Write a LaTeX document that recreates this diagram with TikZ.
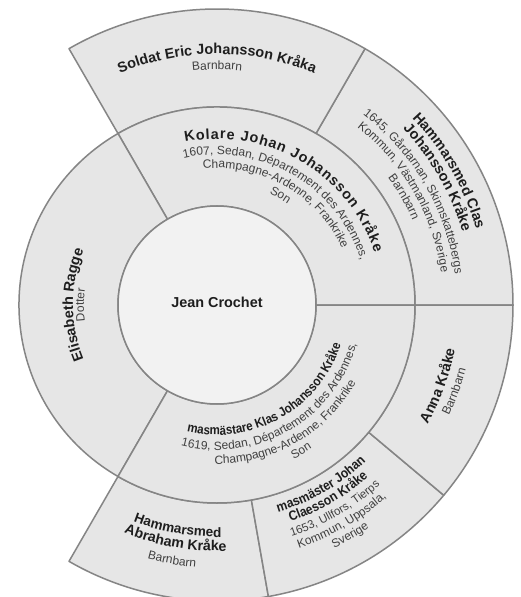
\documentclass[tikz,border=0pt]{standalone}
\usepackage{fontspec}
\setmainfont{Liberation Sans}
\newfontfamily\condsans[FakeStretch=0.89]{Liberation Sans}
\usetikzlibrary{decorations.text}
\definecolor{ringfill}{HTML}{E6E6E6}
\definecolor{centerfill}{HTML}{F2F2F2}
\definecolor{edgecol}{HTML}{858585}
\definecolor{namecol}{HTML}{1E1E1E}
\definecolor{detcol}{HTML}{404040}
\newcommand{\nmf}[1]{\color{namecol}\bfseries\fontsize{#1}{#1}\selectfont}
\newcommand{\cnmf}[1]{\color{namecol}\condsans\bfseries\fontsize{#1}{#1}\selectfont}
\newcommand{\dtf}[1]{\color{detcol}\mdseries\fontsize{#1}{#1}\selectfont}
% clockwise line, tops outward: radius, centre angle, half span, format, text
\newcommand{\upline}[5]{%
  \path[decorate, decoration={text along path, text align=center, text={|#4|#5}}]
    ({#2+#3}:#1pt) arc[start angle={#2+#3}, end angle={#2-#3}, radius=#1pt];}
% counter-clockwise line, tops inward
\newcommand{\downline}[5]{%
  \path[decorate, decoration={text along path, text align=center, text={|#4|#5}}]
    ({#2-#3}:#1pt) arc[start angle={#2-#3}, end angle={#2+#3}, radius=#1pt];}
\newcommand{\upfit}[5]{%
  \path[decorate, decoration={text along path, text align=fit to path, text={|#4|#5}}]
    ({#2+#3}:#1pt) arc[start angle={#2+#3}, end angle={#2-#3}, radius=#1pt];}
% annular sector: inner r, outer r, start angle, end angle
\newcommand{\famsector}[4]{%
  \draw[famcell] (#3:#1pt) arc[start angle=#3, end angle=#4, radius=#1pt]
    -- (#4:#2pt) arc[start angle=#4, end angle=#3, radius=#2pt] -- cycle;}
\begin{document}
\begin{tikzpicture}[
  famcell/.style={fill=ringfill, draw=edgecol, line width=1.5pt, line join=round},
  centercell/.style={fill=centerfill, draw=edgecol, line width=1.5pt}]
\useasboundingbox (-217pt,-292pt) rectangle (303pt,305pt);
\fill[white] (-217pt,-292pt) rectangle (303pt,305pt);
% outer ring
\famsector{198}{296}{0}{60}
\famsector{198}{296}{60}{120}
\famsector{198}{296}{240}{280}
\famsector{198}{296}{280}{320}
\famsector{198}{296}{320}{360}
% middle ring
\famsector{99}{198}{0}{120}
\famsector{99}{198}{120}{240}
\famsector{99}{198}{240}{360}
% centre
\draw[centercell] (0,0) circle[radius=99pt];
\node[anchor=base, font=\bfseries\fontsize{14.4}{14.4}\selectfont, text=namecol] (root) at (0pt,-2pt) {Jean Crochet};
% Kolare Johan Johansson Krake
\upfit{166}{59.75}{41.3}{\nmf{14.4}}{Kolare Johan Johansson Kråke}
\upline{150.5}{60}{60}{\dtf{12}}{1607, Sedan, Département des Ardennes,}
\upline{137}{60}{60}{\dtf{12}}{Champagne-Ardenne, Frankrike}
\upline{123.5}{60}{60}{\dtf{12}}{Son}
% Elisabeth Ragge
\upline{144}{180}{60}{\nmf{14.4}}{Elisabeth Ragge}
\upline{133}{180}{60}{\dtf{12}}{Dotter}
% masmastare Klas Johansson Krake
\downline{130}{299.5}{60}{\cnmf{13}}{masmästare Klas Johansson Kråke}
\downline{145}{300}{60}{\dtf{12}}{1619, Sedan, Département des Ardennes,}
\downline{159}{300}{60}{\dtf{12}}{Champagne-Ardenne, Frankrike}
\downline{172}{300}{60}{\dtf{12}}{Son}
% Soldat Eric
\upline{251}{90}{40}{\nmf{14.4}}{Soldat Eric Johansson Kråka}
\upline{235.5}{90}{40}{\dtf{12}}{Barnbarn}
% Hammarsmed Clas
\upline{270}{30}{40}{\nmf{14.4}}{Hammarsmed Clas}
\upline{256}{30}{40}{\nmf{14.4}}{Johansson Kråke}
\upline{240}{30}{40}{\dtf{12}}{1645, Gårdarnan, Skinnskattebergs}
\upline{226.5}{30}{40}{\dtf{12}}{Kommun, Västmanland, Sverige}
\upline{213}{30}{40}{\dtf{12}}{Barnbarn}
% Anna Krake
\downline{242}{340}{40}{\nmf{14.4}}{Anna Kråke}
\downline{257}{340}{40}{\dtf{12}}{Barnbarn}
% masmaster Johan Claesson Krake
\downline{216}{300}{40}{\cnmf{13.5}}{masmäster Johan}
\downline{229}{300}{40}{\cnmf{13.5}}{Claesson Kråke}
\downline{243}{300}{40}{\dtf{11.5}}{1653, Ullfors, Tierps}
\downline{256.5}{300}{40}{\dtf{12}}{Kommun, Uppsala,}
\downline{270}{300}{40}{\dtf{12}}{Sverige}
% Hammarsmed Abraham Krake
\downline{232}{260}{40}{\nmf{13.6}}{Hammarsmed}
\downline{246}{260}{40}{\nmf{14.2}}{Abraham Kråke}
\downline{263}{260}{40}{\dtf{12}}{Barnbarn}
\end{tikzpicture}
\end{document}
